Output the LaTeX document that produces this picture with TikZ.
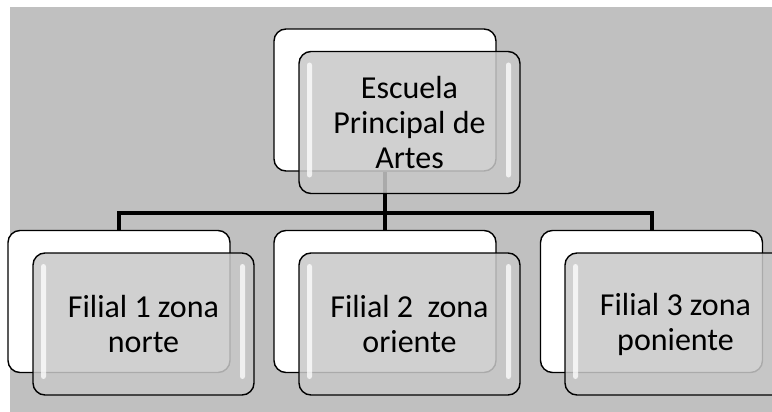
\documentclass[tikz,border=0pt]{standalone}
\usepackage{fontspec}
\setmainfont{Carlito}
\usepackage{xcolor}
\usepackage{tikz}

\definecolor{bggray}{HTML}{C0C0C0}
\definecolor{frontgray}{HTML}{C8C8C8}

\begin{document}
\begin{tikzpicture}[x=1pt,y=-1pt,%
% common options for the white back boxes:
back/.style = {draw, line width=1.4pt, fill=white, rounded corners=12pt,
            minimum width=222pt, minimum height=142pt, inner sep=0},
% common options for the glossy front boxes:
front/.style = {draw, line width=1.4pt, fill=frontgray, fill opacity=0.85,
            text opacity=1, rounded corners=12pt, align=center,
            minimum width=221pt, minimum height=142pt, inner sep=0,
            font=\fontsize{32}{35}\selectfont,
            path picture={
              \fill[white, fill opacity=0.75, rounded corners=2.5pt]
                ([xshift=8pt,yshift=-11pt]path picture bounding box.north west)
                rectangle ([xshift=13pt,yshift=16pt]path picture bounding box.south west);
              \fill[white, fill opacity=0.75, rounded corners=2.5pt]
                ([xshift=-14pt,yshift=-11pt]path picture bounding box.north east)
                rectangle ([xshift=-9pt,yshift=16pt]path picture bounding box.south east);}},
% common options for the connectors:
link/.style = {line width=4pt}]
\useasboundingbox (0,0) rectangle (772,412);
\fill[bggray] (10,7) rectangle (772,412);
\node[back] (W0) at (385,100) {};
\node[back] (W1) at (119,301.5) {};
\node[back] (W2) at (385,301.5) {};
\node[back] (W3) at (651.5,301.5) {};
\coordinate (J) at (385,213);
\draw[link] (W0.south) to (J);
\draw[link] (J) -| (W1.north);
\draw[link] (J) to (W2.north);
\draw[link] (J) -| (W3.north);
\node[front] (R0) at (409.5,122.5) {Escuela\\Principal de\\Artes};
\node[front] (R1) at (143.5,324) {Filial 1 zona\\norte};
\node[front] (R2) at (409.5,324) {Filial 2 \ zona\\oriente};
\node[front] (R3) at (675.5,324) {Filial 3 zona\\poniente};
\end{tikzpicture}
\end{document}
